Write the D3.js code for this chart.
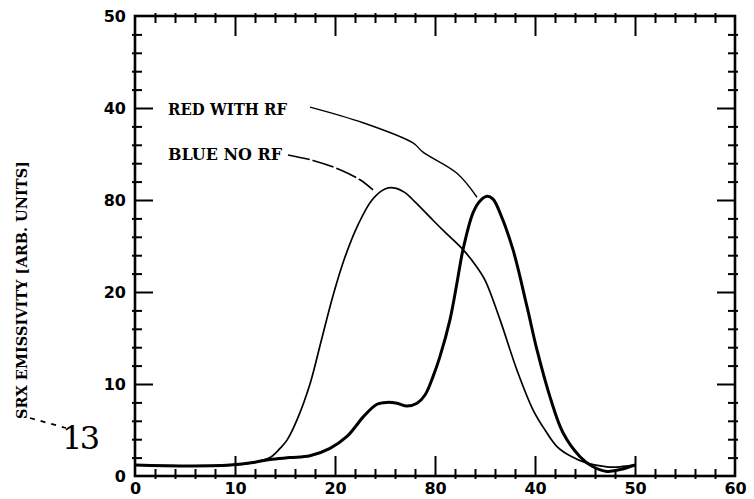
<!DOCTYPE html>
<html><head><meta charset="utf-8">
<script src="https://cdn.jsdelivr.net/npm/d3@7"></script>
<style>html,body{margin:0;padding:0;background:#fff;}svg{display:block;}</style>
</head><body>
<svg id="c" width="754" height="499"></svg>
<script>
// ---- data ----
const xTickValues = [0, 10, 20, 30, 40, 50, 60];
const xTickLabels = ["0", "10", "20", "80", "40", "50", "60"];
const yTickValues = [0, 10, 20, 30, 40, 50];
const yTickLabels = ["0", "10", "20", "80", "40", "50"];
const yTitle = "SRX EMISSIVITY [ARB. UNITS]";
const seriesNames = ["RED WITH RF", "BLUE NO RF"];

const blueX = [0, 5, 10, 12, 13.5, 14.5, 15.2, 16.2, 17.5, 18.6, 19.8, 21, 22.3, 23.7, 25, 26, 27, 28, 29.8, 31, 32.8, 34, 35, 36.5, 38.2, 39.8, 41, 42.2, 43.5, 45.2, 47.2, 48.5, 50];
const blueY = [1.2, 1.1, 1.2, 1.5, 2.0, 3.0, 3.9, 6.1, 10, 14.6, 19.6, 23.8, 27.3, 30, 31.2, 31.3, 30.8, 29.8, 27.8, 26.5, 24.6, 23, 21.3, 17, 11.5, 7.2, 5, 3.2, 2.2, 1.4, 1.0, 1.0, 1.2];

const redX = [0, 5, 9.5, 12, 13.5, 15.5, 17.5, 19.5, 21.2, 22, 22.8, 24.2, 25.2, 26.2, 27.2, 28.2, 29, 29.8, 30.5, 31.5, 32.2, 32.8, 33.8, 34.5, 35.2, 35.8, 36.5, 37.8, 39.2, 40.2, 41.5, 42.8, 44.5, 45.8, 47.2, 48.5, 50];
const redY = [1.2, 1.1, 1.2, 1.5, 1.8, 2.0, 2.2, 3.0, 4.3, 5.3, 6.4, 7.8, 8.0, 7.9, 7.6, 7.9, 8.8, 10.8, 13, 17, 21, 24.6, 28.6, 29.9, 30.4, 30.1, 28.6, 24.6, 18.4, 13.7, 8.6, 4.7, 2.1, 1.0, 0.5, 0.7, 1.2];

// leader lines (data units)
const redLeaderX = [17.5, 22.8, 27.8, 28.8, 32.2, 34.2];
const redLeaderY = [40.1, 38.4, 36.2, 35.2, 32.9, 30.3];
const blueLeaderX = [15.3, 17.8, 20.5, 22.5, 23.8];
const blueLeaderY = [34.9, 34.3, 33.3, 32.2, 31.1];

// ---- drawing ----
const svg = d3.select("#c");
svg.append("rect").attr("width", 754).attr("height", 499).attr("fill", "#fff");

const x = d3.scaleLinear().domain([0, 60]).range([135, 735]);
const y = d3.scaleLinear().domain([0, 50]).range([476, 16]);
const x0 = 135, x1 = 735, y0 = 476, y1 = 16;

const minorX = d3.range(0, 61, 2).filter(v => v % 10 !== 0);
const minorY = d3.range(0, 51, 2).filter(v => v % 10 !== 0);
const majorX = [10, 20, 30, 40, 50];
const majorY = [10, 20, 30, 40];

function tickAxis(axisFn, scale, values, inner, translate) {
  const g = svg.append("g").attr("transform", translate)
    .call(axisFn(scale).tickValues(values).tickSizeInner(inner).tickSizeOuter(0).tickFormat(""));
  g.select(".domain").remove();
  g.selectAll("line").attr("stroke", "#000").attr("stroke-width", 2);
  return g;
}
// bottom
tickAxis(d3.axisBottom, x, minorX, -7, `translate(0,${y0})`);
tickAxis(d3.axisBottom, x, minorX, 3, `translate(0,${y0})`);
tickAxis(d3.axisBottom, x, majorX, -20, `translate(0,${y0})`);
// top
tickAxis(d3.axisTop, x, minorX, -7, `translate(0,${y1})`);
tickAxis(d3.axisTop, x, minorX, 3, `translate(0,${y1})`);
tickAxis(d3.axisTop, x, majorX, -20, `translate(0,${y1})`);
// left
tickAxis(d3.axisLeft, y, minorY, -7, `translate(${x0},0)`);
tickAxis(d3.axisLeft, y, minorY, 3, `translate(${x0},0)`);
tickAxis(d3.axisLeft, y, majorY, -18, `translate(${x0},0)`);
// right
tickAxis(d3.axisRight, y, minorY, -7, `translate(${x1},0)`);
tickAxis(d3.axisRight, y, minorY, 3, `translate(${x1},0)`);
tickAxis(d3.axisRight, y, majorY, -18, `translate(${x1},0)`);

// frame
svg.append("rect").attr("x", x0).attr("y", y1).attr("width", x1 - x0).attr("height", y0 - y1)
  .attr("fill", "none").attr("stroke", "#000").attr("stroke-width", 2.6);

// tick labels
const labX = svg.append("g").attr("transform", `translate(0,${y0})`)
  .call(d3.axisBottom(x).tickValues(xTickValues).tickSize(0).tickPadding(7)
    .tickFormat((d, i) => xTickLabels[i]));
labX.select(".domain").remove();
labX.selectAll("text").attr("font-family", "DejaVu Sans").attr("font-weight", "bold")
  .attr("font-size", 16).attr("fill", "#000");

const labY = svg.append("g").attr("transform", `translate(${x0},0)`)
  .call(d3.axisLeft(y).tickValues(yTickValues).tickSize(0).tickPadding(9)
    .tickFormat((d, i) => yTickLabels[i]));
labY.select(".domain").remove();
labY.selectAll("text").attr("font-family", "DejaVu Sans").attr("font-weight", "bold")
  .attr("font-size", 16).attr("fill", "#000");

// y title
svg.append("text").attr("transform", "translate(27,290) rotate(-90)")
  .attr("text-anchor", "middle").attr("font-family", "DejaVu Serif").attr("font-weight", "bold")
  .attr("font-size", 15).attr("textLength", 258).attr("lengthAdjust", "spacingAndGlyphs")
  .attr("fill", "#000").text(yTitle);

// handwritten mark
svg.append("line").attr("x1", 30).attr("y1", 418).attr("x2", 66).attr("y2", 428)
  .attr("stroke", "#000").attr("stroke-width", 1.8).attr("stroke-dasharray", "5,6");
svg.append("text").attr("x", 62).attr("y", 449).attr("font-family", "DejaVu Serif")
  .attr("font-size", 32).attr("textLength", 38).attr("lengthAdjust", "spacing")
  .attr("fill", "#000").text("13");

// curves
const line = d3.line().x(d => x(d[0])).y(d => y(d[1])).curve(d3.curveCatmullRom.alpha(0.5));
const blue = blueX.map((v, i) => [v, blueY[i]]);
const red = redX.map((v, i) => [v, redY[i]]);
svg.append("path").datum(blue).attr("d", line).attr("fill", "none")
  .attr("stroke", "#000").attr("stroke-width", 1.7);
svg.append("path").datum(red).attr("d", line).attr("fill", "none")
  .attr("stroke", "#000").attr("stroke-width", 3);

// leaders
const lead = d3.line().x(d => x(d[0])).y(d => y(d[1])).curve(d3.curveCatmullRom);
svg.append("path").datum(redLeaderX.map((v, i) => [v, redLeaderY[i]])).attr("d", lead)
  .attr("fill", "none").attr("stroke", "#000").attr("stroke-width", 1.4);
svg.append("path").datum(blueLeaderX.map((v, i) => [v, blueLeaderY[i]])).attr("d", lead)
  .attr("fill", "none").attr("stroke", "#000").attr("stroke-width", 1.6)
  .attr("stroke-dasharray", "22,3");

// legend labels
svg.append("text").attr("x", 168).attr("y", 115).attr("font-family", "DejaVu Serif")
  .attr("font-weight", "bold").attr("font-size", 16).attr("textLength", 119)
  .attr("lengthAdjust", "spacingAndGlyphs").attr("fill", "#000").text(seriesNames[0]);
svg.append("text").attr("x", 168).attr("y", 160).attr("font-family", "DejaVu Serif")
  .attr("font-weight", "bold").attr("font-size", 16).attr("textLength", 114)
  .attr("lengthAdjust", "spacingAndGlyphs").attr("fill", "#000").text(seriesNames[1]);
</script>
</body></html>
